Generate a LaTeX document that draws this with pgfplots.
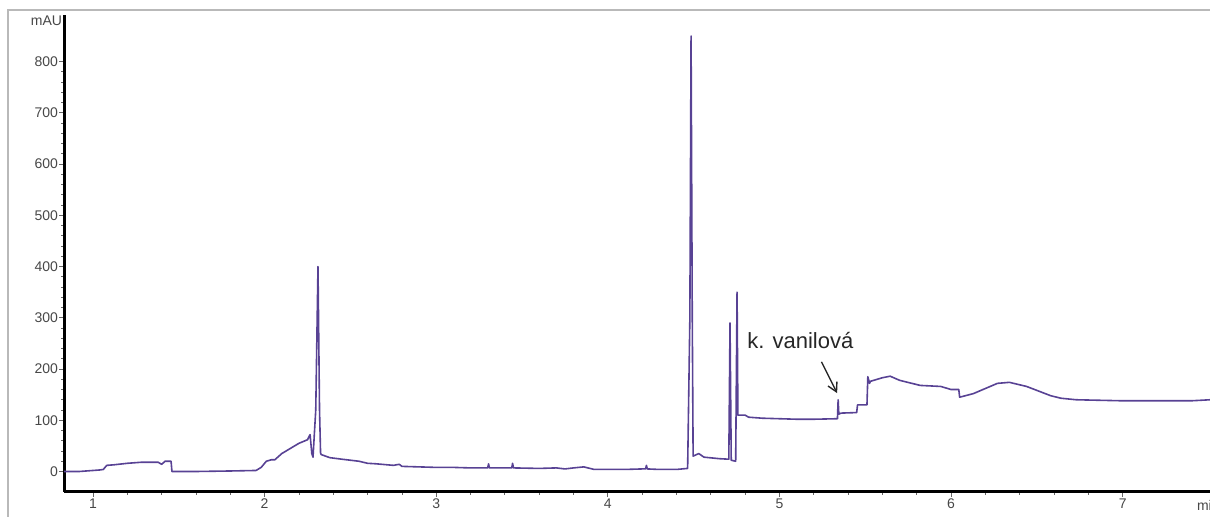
\documentclass[border=0pt]{standalone}
\usepackage{fontspec}
\setmainfont{Liberation Sans}
\usepackage{pgfplots}
\pgfplotsset{compat=1.18}
\usetikzlibrary{arrows.meta}
\definecolor{trace}{RGB}{88,66,148}
\pgfplotstableread{
x y
0.831 0
0.92 0
0.96 1
1.04 3
1.06 4
1.08 12
1.12 13
1.20 16
1.28 18
1.38 18
1.40 14
1.42 20
1.455 20
1.46 0
1.60 0
1.80 1
1.95 2
1.98 8
2.01 20
2.04 23
2.06 23
2.10 35
2.15 45
2.20 55
2.25 62
2.265 72
2.275 35
2.282 28
2.298 120
2.311 400
2.320 120
2.326 36
2.33 33
2.38 27
2.45 24
2.55 20
2.60 16
2.65 15
2.75 12
2.785 14
2.80 10
2.90 9
3.00 8
3.10 8
3.20 7
3.30 7
3.305 15
3.31 7
3.40 7
3.44 7
3.445 16
3.45 7
3.60 6
3.70 7
3.75 5
3.80 7
3.86 9
3.92 4
4.00 4
4.10 4
4.20 5
4.22 5
4.225 12
4.23 5
4.30 4
4.40 4
4.465 6
4.478 300
4.485 850
4.492 300
4.497 30
4.51 32
4.53 35
4.56 28
4.65 25
4.705 24
4.712 290
4.719 22
4.745 20
4.753 350
4.758 110
4.80 110
4.82 106
4.90 104
5.00 103
5.10 102
5.20 102
5.338 103
5.342 140
5.346 112
5.36 114
5.45 115
5.455 130
5.51 130
5.515 185
5.525 172
5.53 176
5.60 183
5.645 186
5.70 178
5.82 168
5.94 166
6.00 160
6.045 160
6.05 145
6.13 152
6.20 162
6.27 172
6.34 174
6.44 166
6.58 148
6.64 143
6.73 140
7.00 138
7.10 138
7.40 138
7.509 140
}\trace
\begin{document}
\begin{tikzpicture}
\useasboundingbox (-32pt,-12.5pt) rectangle (573pt,246pt);
\draw[gray!55, line width=0.6pt] (-28pt,-20pt) -- (-28pt,241pt) -- (590pt,241pt);
\begin{axis}[
 at={(0,0)}, anchor=south west,
 scale only axis, width=573pt, height=238.5pt,
 xmin=0.831, xmax=7.509, ymin=-40, ymax=891,
 axis x line*=bottom, axis y line*=left,
 axis line style={-, line width=1.5pt, black},
 xtick={1,...,7}, ytick={0,100,...,800},
 minor x tick num=4, minor y tick num=4,
 tick align=outside,
 major tick length=2.5pt, minor tick length=1.5pt,
 tick style={color=black!60, line width=0.4pt},
 ticklabel style={font=\fontsize{7}{8}\selectfont, text=black!72},
 yticklabel style={inner xsep=0.3pt},
 xticklabel style={inner ysep=0.8pt},
 /pgf/number format/assume math mode=true,
]
\addplot[trace, line width=0.8pt, line join=round] table[x=x,y=y] {\trace};
\node[font=\fontsize{11}{13}\selectfont, text=black!85] at (axis cs:5.122,255) {k. vanilová};
\draw[-{Straight Barb[length=4.5pt,width=5pt]}, line width=0.7pt, black!85] (axis cs:5.245,214) -- (axis cs:5.336,153);
\end{axis}
\node[anchor=east, font=\fontsize{7}{8}\selectfont, text=black!72, inner xsep=0.3pt] at (-0.5pt,235.5pt) {mAU};
\node[anchor=west, font=\fontsize{7}{8}\selectfont, text=black!72] at (563pt,-6.5pt) {min};
\end{tikzpicture}
\end{document}
